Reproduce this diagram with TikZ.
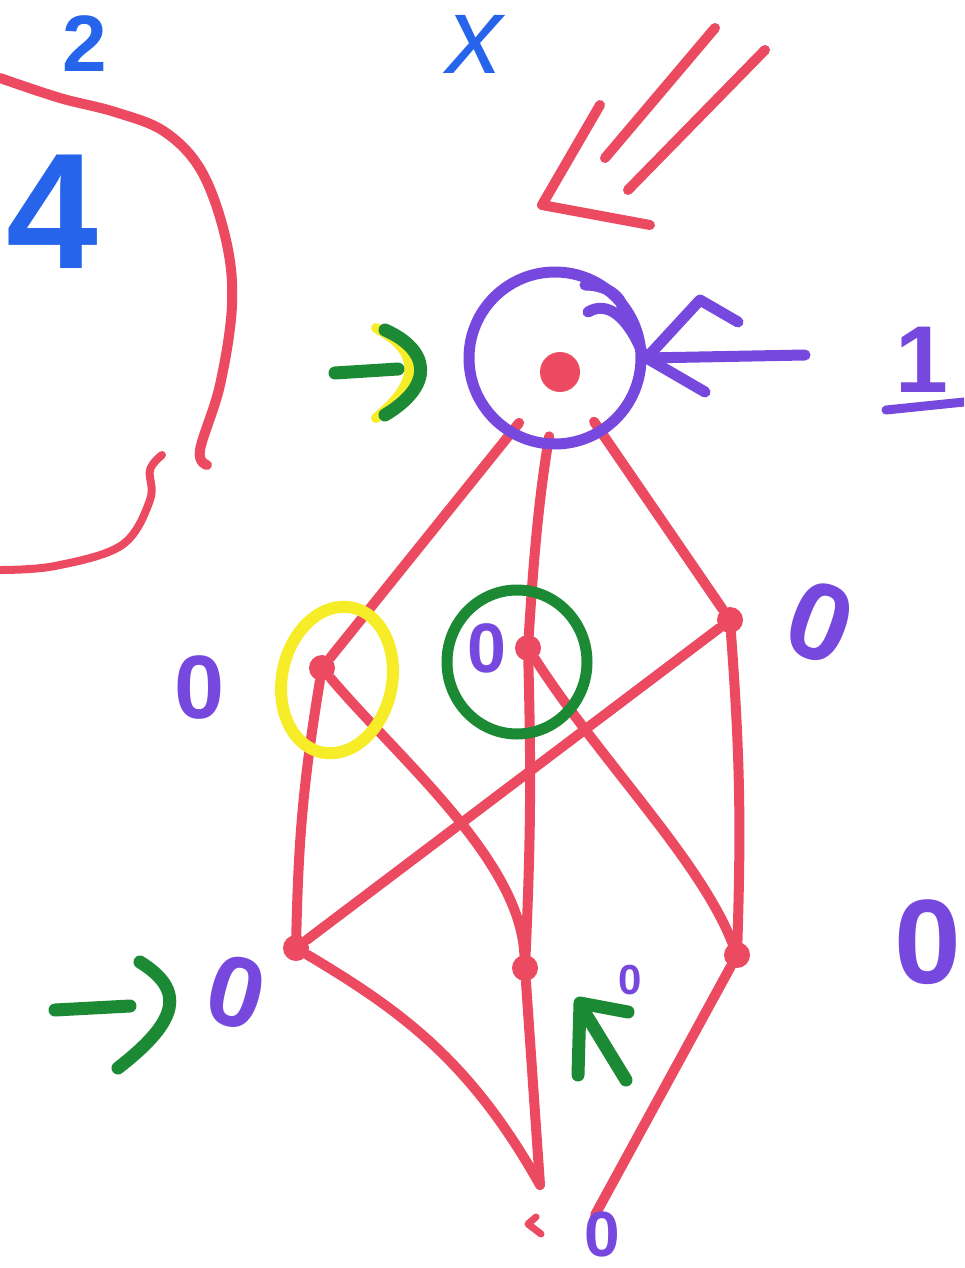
\documentclass[tikz,border=0pt]{standalone}
\usepackage{fontspec}
\usetikzlibrary{calc}
\setmainfont{Liberation Sans}
\definecolor{mred}{RGB}{236,74,96}
\definecolor{mpur}{RGB}{118,72,222}
\definecolor{mblue}{RGB}{38,100,236}
\definecolor{mgreen}{RGB}{28,138,52}
\definecolor{myel}{RGB}{246,236,40}
\tikzset{
  redline/.style={draw=mred, line width=10pt, line cap=round, line join=round},
  purline/.style={draw=mpur, line width=11pt, line cap=round, line join=round},
  grnline/.style={draw=mgreen, line width=13pt, line cap=round, line join=round},
  yelline/.style={draw=myel, line width=12pt, line cap=round, line join=round},
  dot/.style={circle, fill=mred, inner sep=0pt, minimum size=26pt},
  lbl/.style={text=mpur, inner sep=0pt},
  blbl/.style={text=mblue, inner sep=0pt},
}
\begin{document}
\begin{tikzpicture}[x=1pt,y=-1pt]
\useasboundingbox (0,0) rectangle (964,1268);
\fill[white] (0,0) rectangle (964,1268);
\clip (0,0) rectangle (964,1268);

% lattice vertices
\node[dot, minimum size=40pt] (T) at (560,372) {};
\node[dot] (M1) at (322,668) {};
\node[dot] (M2) at (528,648) {};
\node[dot] (M3) at (730,620) {};
\node[dot] (B1) at (296,948) {};
\node[dot] (B2) at (525,968) {};
\node[dot] (B3) at (737,955) {};
\coordinate (Z) at (540,1185);
\coordinate (Z2) at (595,1215);

% edges
\draw[redline, shorten <=45pt] (T) -- (M1);
\draw[redline, shorten <=45pt] (T) to[bend right=3] (M2);
\draw[redline, shorten <=40pt] (T) -- (M3);
\draw[redline] (M1) to[bend right=4] (B1);
\draw[redline] (M1) .. controls (400,760) and (520,860) .. (B2);
\draw[redline] (M3) -- (B1);
\draw[redline] (M2) to[bend left=2] (B2);
\draw[redline] (M2) .. controls (600,760) and (700,860) .. (B3);
\draw[redline] (M3) to[bend left=3] (B3);
\draw[redline] (B1) .. controls (400,1010) and (470,1060) .. (Z);
\draw[redline] (B2) -- (Z);
\draw[redline] (B3) -- (Z2);

% red strokes: left bracket, big arrow, bottom tick
\draw[redline] plot[smooth, tension=0.6] coordinates {(0,78) (60,98) (115,112) (165,132) (202,172) (226,240) (232,305) (220,385) (200,450) (207,465)};
\draw[redline, line width=8pt] plot[smooth, tension=0.6] coordinates {(162,455) (150,470) (150,500) (122,545) (55,566) (0,570)};
\draw[redline] (715,28) -- (605,158);
\draw[redline] (765,50) -- (628,190);
\draw[redline] (600,105) -- (542,205) -- (650,225);
\draw[redline, line width=7pt] (536,1217) -- (528,1224) -- (541,1234);

% purple ring on the top vertex and the arrow from the right
\node[draw=mpur, line width=11pt, circle, minimum size=172pt] (ring) at (555,358) {};
\draw[purline] (585,285) .. controls (610,285) and (625,300) .. (622,312);
\draw[purline] (588,312) .. controls (608,300) and (628,318) .. (642,352);
\coordinate (pa) at (805,355);
\draw[purline] (pa) -- (ring.east);
\draw[purline] (ring.east) -- (700,300) -- (738,322);
\draw[purline] (ring.east) -- (705,392);

% yellow and green rings
\draw[yelline, rotate around={-12:(337,680)}] (337,680) ellipse [x radius=55, y radius=74];
\draw[grnline, line width=11pt] (517,662) ellipse [x radius=70, y radius=72];

% green arrows
\coordinate (ga1) at (335,373);
\coordinate (ga2) at (398,369);
\draw[yelline, line width=10pt] (376,328) .. controls (418,350) and (423,380) .. (376,418);
\draw[grnline] (ga1) -- (ga2);
\draw[grnline] (385,330) .. controls (430,350) and (435,385) .. (385,415);

\coordinate (gb1) at (55,1010);
\coordinate (gb2) at (130,1006);
\draw[grnline] (gb1) -- (gb2);
\draw[grnline] (140,962) .. controls (185,990) and (180,1020) .. (118,1068);

\draw[grnline] (628,1012) -- (580,1003) -- (578,1075);
\draw[grnline] (582,1008) -- (626,1080);

% purple labels
\node[lbl, font=\bfseries\fontsize{95}{95}\selectfont] (l1) at (922,360) {1};
\draw[purline, line width=9pt] (886,410) -- (964,402);
\node[lbl, font=\bfseries\fontsize{90}{90}\selectfont] at (200,688) {0};
\node[lbl, font=\bfseries\fontsize{70}{70}\selectfont] at (487,648) {0};
\node[lbl, font=\bfseries\fontsize{110}{110}\selectfont, rotate=-20] at (820,622) {0};
\node[lbl, font=\bfseries\fontsize{100}{100}\selectfont, rotate=-15] at (236,992) {0};
\node[lbl, font=\bfseries\fontsize{42}{42}\selectfont] at (630,980) {0};
\node[lbl, font=\bfseries\fontsize{120}{120}\selectfont] at (928,942) {0};
\node[lbl, font=\bfseries\fontsize{64}{64}\selectfont] at (602,1234) {0};

% blue labels
\node[blbl, font=\bfseries\fontsize{80}{80}\selectfont] at (85,44) {2};
\node[blbl, font=\itshape\fontsize{110}{110}\selectfont] at (475,44) {x};
\node[blbl, font=\bfseries\fontsize{165}{165}\selectfont] at (52,212) {4};
\end{tikzpicture}
\end{document}
